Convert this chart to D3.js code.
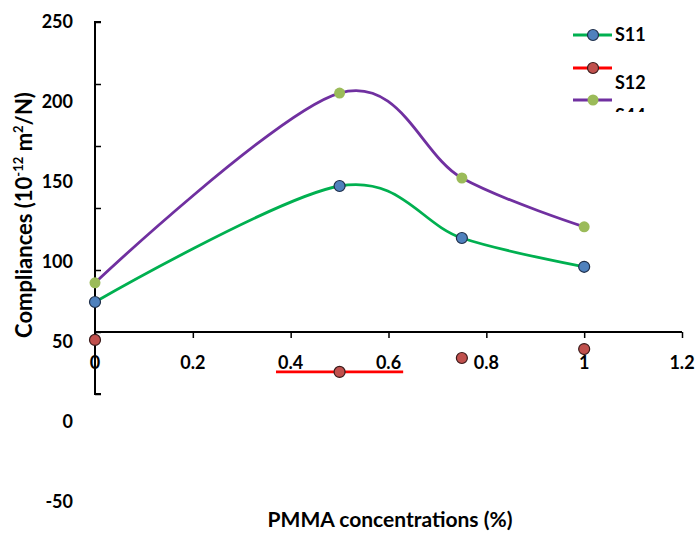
<!DOCTYPE html>
<html>
<head>
<meta charset="utf-8">
<script src="https://cdn.jsdelivr.net/npm/d3@7"></script>
<style>
  html, body { margin: 0; padding: 0; background: #fff; }
  svg { display: block; font-family: Lato, "Open Sans", sans-serif; font-weight: bold; }
</style>
</head>
<body>
<svg id="chart" width="698" height="535"></svg>
<script>
// ---- data ----
const concentrations = [0, 0.5, 0.75, 1];
const s11 = [75, 147.5, 115, 97];
const s12 = [51.3, 31.3, 40, 45.6];
const s44 = [87, 205.6, 152.5, 122];
const s12Segment = [0.37, 0.63];            // stray red segment drawn at S12's 0.5 value
const xTicks = [0, 0.2, 0.4, 0.6, 0.8, 1, 1.2];
const xTickLabels = ["0", "0.2", "0.4", "0.6", "0.8", "1", "1.2"];
const yTicks = [250, 200, 150, 100, 50, 0, -50];
const yTickLabels = ["250", "200", "150", "100", "50", "0", "-50"];
const seriesNames = ["S11", "S12", "S44"];

const svg = d3.select("#chart");
const x = d3.scaleLinear().domain([0, 1.2]).range([95, 682]);
const y = d3.scaleLinear().domain([-50, 250]).range([502, 22]);      // label / data scale
const yAxisScale = d3.scaleLinear().domain([-50, 250]).range([394, 22]); // axis-line tick scale

const series = [
  { name: seriesNames[0], values: s11, line: "#00b050", fill: "#4f81bd", stroke: "#1f2f4a", drawLine: true },
  { name: seriesNames[1], values: s12, line: "#ff0000", fill: "#c0504d", stroke: "#3a1a1a", drawLine: false },
  { name: seriesNames[2], values: s44, line: "#7030a0", fill: "#9bbb59", stroke: "none", drawLine: true }
];

// ---- y axis (line + inward ticks) ----
const yAx = d3.axisRight(yAxisScale).tickValues(yTicks).tickSize(6).tickFormat("");
const gy = svg.append("g").attr("transform", `translate(${x(0)},0)`).call(yAx);
gy.select(".domain").attr("d", `M6,${yAxisScale(250)}H0V${yAxisScale(-50)}H6`).attr("stroke", "#000").attr("stroke-width", 2);
gy.selectAll(".tick line").attr("stroke", "#000").attr("stroke-width", 1.5);

// y tick labels (placed with the data scale)
svg.append("g").selectAll("text").data(yTicks).join("text")
  .attr("x", 73).attr("y", d => y(d)).attr("dy", "0.36em")
  .attr("text-anchor", "end").attr("font-size", 18).attr("fill", "#000")
  .text((d, i) => yTickLabels[i]);

// ---- x axis ----
const xAx = d3.axisBottom(x).tickValues(xTicks).tickSize(6).tickFormat("");
const gx = svg.append("g").attr("transform", `translate(0,${yAxisScale(0)})`).call(xAx);
gx.select(".domain").attr("d", `M${x(0)},0H${x(1.2)}`).attr("stroke", "#000").attr("stroke-width", 2);
gx.selectAll(".tick line").attr("stroke", "#000").attr("stroke-width", 1.5);
svg.append("g").selectAll("text").data(xTicks).join("text")
  .attr("x", d => x(d)).attr("y", 369)
  .attr("text-anchor", "middle").attr("font-size", 18).attr("fill", "#000")
  .text((d, i) => xTickLabels[i]);

// ---- axis titles ----
svg.append("text").attr("x", 390).attr("y", 527).attr("text-anchor", "middle")
  .attr("font-size", 21).attr("fill", "#000").text("PMMA concentrations (%)");

const yt = svg.append("text").attr("transform", "translate(32,215) rotate(-90)")
  .attr("text-anchor", "middle").attr("font-size", 22).attr("fill", "#000");
yt.append("tspan").text("Compliances (10");
yt.append("tspan").attr("font-size", 13).attr("dy", -9).text("-12");
yt.append("tspan").attr("dy", 9).text(" m");
yt.append("tspan").attr("font-size", 13).attr("dy", -9).text("2");
yt.append("tspan").attr("dy", 9).text("/N)");

// ---- lines ----
const line = d3.line().x((d, i) => x(concentrations[i])).y(d => y(d)).curve(d3.curveCardinal.tension(0));
series.filter(s => s.drawLine).forEach(s => {
  svg.append("path").datum(s.values).attr("d", line)
    .attr("fill", "none").attr("stroke", s.line).attr("stroke-width", 2.8);
});
// stray red segment
svg.append("line")
  .attr("x1", x(s12Segment[0])).attr("x2", x(s12Segment[1]))
  .attr("y1", y(s12[1])).attr("y2", y(s12[1]))
  .attr("stroke", "#ff0000").attr("stroke-width", 2.8);

// ---- markers ----
series.forEach(s => {
  svg.append("g").selectAll("circle").data(s.values).join("circle")
    .attr("cx", (d, i) => x(concentrations[i])).attr("cy", d => y(d)).attr("r", 5.5)
    .attr("fill", s.fill).attr("stroke", s.stroke).attr("stroke-width", 1.2);
});

// ---- legend (clipped at bottom, as in the reference) ----
svg.append("defs").append("clipPath").attr("id", "legclip")
  .append("rect").attr("x", 540).attr("y", 0).attr("width", 158).attr("height", 112);
const leg = svg.append("g").attr("clip-path", "url(#legclip)");
const legRows = [35, 68, 100];
const legText = [41, 89, 122];
series.forEach((s, i) => {
  leg.append("line").attr("x1", 573).attr("x2", 612).attr("y1", legRows[i]).attr("y2", legRows[i])
    .attr("stroke", s.line).attr("stroke-width", 2.8);
  leg.append("circle").attr("cx", 593).attr("cy", legRows[i]).attr("r", 5.5)
    .attr("fill", s.fill).attr("stroke", s.stroke).attr("stroke-width", 1.2);
  leg.append("text").attr("x", 615).attr("y", legText[i]).attr("font-size", 18).attr("fill", "#000").text(s.name);
});
</script>
</body>
</html>
